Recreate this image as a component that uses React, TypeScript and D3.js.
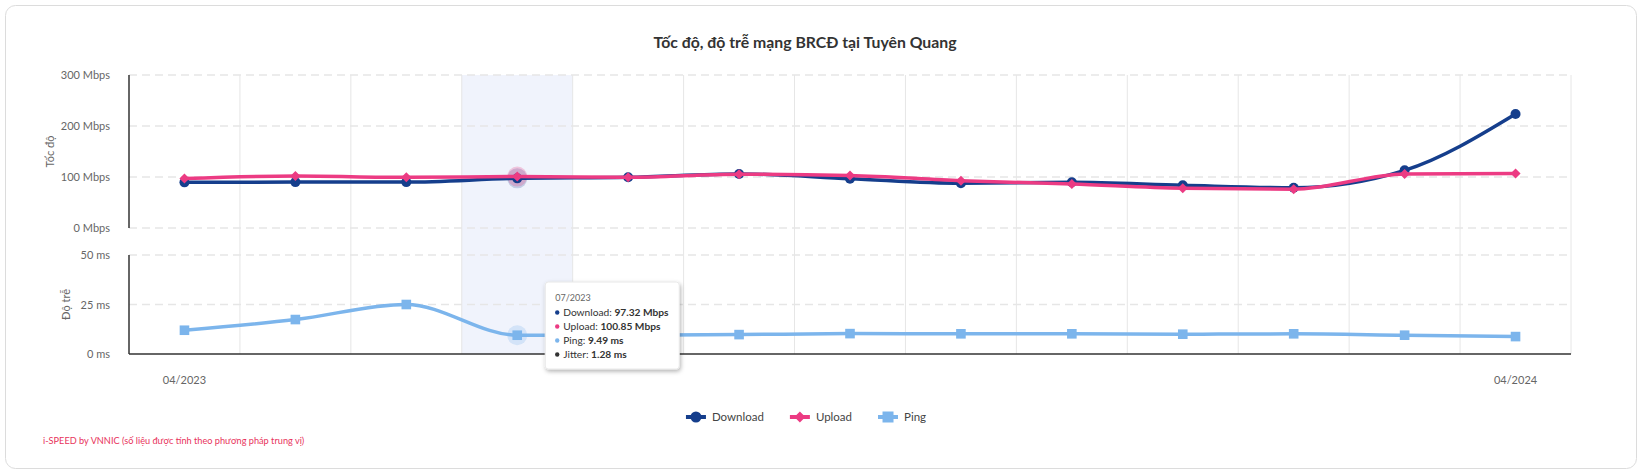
import { useMemo } from "react";
import * as d3 from "d3";

const months = [
  "04/2023", "05/2023", "06/2023", "07/2023", "08/2023", "09/2023", "10/2023",
  "11/2023", "12/2023", "01/2024", "02/2024", "03/2024", "04/2024",
];
const downloadMbps = [89.5, 90, 90, 97.32, 99.4, 106, 96.7, 87.6, 89.6, 83.7, 79, 113, 223.5];
const uploadMbps = [97, 102, 99.4, 100.85, 99.6, 105.5, 103, 92.8, 86.3, 77.8, 76, 106, 107];
const pingMs = [12, 17.4, 25, 9.49, 9.5, 9.8, 10.3, 10.2, 10.2, 10.0, 10.2, 9.5, 8.8];
const jitterMs = 1.28;
const speedTicks = [0, 100, 200, 300];
const pingTicks = [0, 25, 50];
const labelledMonths = ["04/2023", "04/2024"];
const hoveredMonth = "07/2023";

const W = 1642;
const H = 472;
const PLOT = { left: 129, right: 1571 };
const SPEED_PANE = { top: 75, bottom: 228 };
const PING_PANE = { top: 255, bottom: 354 };

const NAVY = "#153e8c";
const PINK = "#ec3b83";
const SKY = "#7cb5ec";
const GRID = "#e6e6e6";
const LABEL = "#666666";
const FONT = "Lato, 'Open Sans', sans-serif";

const legendItems = [
  { name: "Download", color: NAVY, shape: "circle" },
  { name: "Upload", color: PINK, shape: "diamond" },
  { name: "Ping", color: SKY, shape: "square" },
];

function Marker({ shape, x, y, color, r }: { shape: string; x: number; y: number; color: string; r: number }) {
  if (shape === "circle") return <circle cx={x} cy={y} r={r} fill={color} />;
  if (shape === "square") return <rect x={x - r} y={y - r} width={2 * r} height={2 * r} fill={color} />;
  return <path d={`M${x},${y - r}L${x + r},${y}L${x},${y + r}L${x - r},${y}Z`} fill={color} />;
}

function measure(text: string, font: string) {
  const ctx = document.createElement("canvas").getContext("2d");
  if (!ctx) return text.length * 6;
  ctx.font = font;
  return ctx.measureText(text).width;
}

export default function App() {
  const x = useMemo(
    () => d3.scaleBand<string>().domain(months).range([PLOT.left, PLOT.right]).padding(0),
    []
  );
  const ySpeed = useMemo(
    () => d3.scaleLinear().domain([0, 300]).range([SPEED_PANE.bottom, SPEED_PANE.top]),
    []
  );
  const yPing = useMemo(
    () => d3.scaleLinear().domain([0, 50]).range([PING_PANE.bottom, PING_PANE.top]),
    []
  );
  const cx = (m: string) => x(m)! + x.bandwidth() / 2;

  const speedLine = d3
    .line<number>()
    .x((_, i) => cx(months[i]))
    .y((d) => ySpeed(d))
    .curve(d3.curveMonotoneX);
  const pingLine = d3
    .line<number>()
    .x((_, i) => cx(months[i]))
    .y((d) => yPing(d))
    .curve(d3.curveMonotoneX);

  const hi = months.indexOf(hoveredMonth);
  const hx = cx(hoveredMonth);

  // legend layout
  const legendFontSize = 11.5;
  const legendFont = `${legendFontSize}px ${FONT}`;
  const legendCenter = 806;
  const symW = 20;
  const itemW = legendItems.map((it) => symW + 6 + measure(it.name, legendFont));
  const gap = 26;
  const totalW = d3.sum(itemW) + gap * (legendItems.length - 1);
  let lx = legendCenter - totalW / 2;
  const legendPos = itemW.map((w) => {
    const p = lx;
    lx += w + gap;
    return p;
  });
  const legendY = 417;

  const tipX = hx + 28;
  const tipY = 282;
  const tipRows = [
    { label: "Download", value: `${downloadMbps[hi].toFixed(2)} Mbps`, color: NAVY },
    { label: "Upload", value: `${uploadMbps[hi].toFixed(2)} Mbps`, color: PINK },
    { label: "Ping", value: `${pingMs[hi].toFixed(2)} ms`, color: SKY },
    { label: "Jitter", value: `${jitterMs.toFixed(2)} ms`, color: "#333333" },
  ];

  return (
    <div style={{ position: "absolute", left: 0, top: 0 }}>
      <svg width={W} height={H} style={{ display: "block", fontFamily: FONT }}>
        <defs>
          <filter id="tipShadow" x="-20%" y="-20%" width="140%" height="150%">
            <feDropShadow dx="1" dy="2" stdDeviation="2" floodColor="#000" floodOpacity="0.3" />
          </filter>
        </defs>
        <rect width={W} height={H} fill="#ffffff" />
        <rect x={5.5} y={5.5} width={1631} height={463} rx={10} fill="#ffffff" stroke="#dcdcdc" />

        <text x={805} y={48} textAnchor="middle" fontSize={15.8} fontWeight={700} fill="#333333">
          Tốc độ, độ trễ mạng BRCĐ tại Tuyên Quang
        </text>

        {/* hovered band */}
        <rect
          x={x(hoveredMonth)}
          y={SPEED_PANE.top}
          width={x.bandwidth()}
          height={PING_PANE.bottom - SPEED_PANE.top}
          fill="rgba(204,214,245,0.3)"
        />

        {/* vertical grid lines */}
        {months.map((m) => (
          <line
            key={m}
            x1={x(m)! + x.bandwidth()}
            x2={x(m)! + x.bandwidth()}
            y1={SPEED_PANE.top}
            y2={PING_PANE.bottom}
            stroke={GRID}
            strokeWidth={1}
          />
        ))}

        {/* speed pane grid + labels */}
        {speedTicks.map((t) => (
          <g key={`s${t}`}>
            <line
              x1={PLOT.left}
              x2={PLOT.right}
              y1={ySpeed(t)}
              y2={ySpeed(t)}
              stroke={GRID}
              strokeWidth={1.5}
              strokeDasharray="8,5"
            />
            <text x={110} y={ySpeed(t) + 4} textAnchor="end" fontSize={11} fill={LABEL}>
              {t} Mbps
            </text>
          </g>
        ))}
        {pingTicks.map((t) => (
          <g key={`p${t}`}>
            {t > 0 && (
              <line
                x1={PLOT.left}
                x2={PLOT.right}
                y1={yPing(t)}
                y2={yPing(t)}
                stroke={GRID}
                strokeWidth={1.5}
                strokeDasharray="8,5"
              />
            )}
            <text x={110} y={yPing(t) + 4} textAnchor="end" fontSize={11} fill={LABEL}>
              {t} ms
            </text>
          </g>
        ))}

        {/* axis lines */}
        <line x1={PLOT.left} x2={PLOT.left} y1={SPEED_PANE.top} y2={SPEED_PANE.bottom} stroke="#333333" strokeWidth={1.5} />
        <line x1={PLOT.left} x2={PLOT.left} y1={PING_PANE.top} y2={PING_PANE.bottom} stroke="#333333" strokeWidth={1.5} />
        <line x1={PLOT.left} x2={PLOT.right} y1={PING_PANE.bottom} y2={PING_PANE.bottom} stroke="#333333" strokeWidth={1.5} />

        {/* axis titles */}
        <text
          transform={`translate(50,${(SPEED_PANE.top + SPEED_PANE.bottom) / 2}) rotate(-90)`}
          textAnchor="middle"
          fontSize={11}
          fill={LABEL}
          dy="0.35em"
        >
          Tốc độ
        </text>
        <text
          transform={`translate(66,${(PING_PANE.top + PING_PANE.bottom) / 2}) rotate(-90)`}
          textAnchor="middle"
          fontSize={11}
          fill={LABEL}
          dy="0.35em"
        >
          Độ trễ
        </text>

        {labelledMonths.map((m) => (
          <text key={m} x={cx(m)} y={384} textAnchor="middle" fontSize={11} fill={LABEL}>
            {m}
          </text>
        ))}

        {/* hover halos */}
        <circle cx={hx} cy={ySpeed(downloadMbps[hi])} r={10} fill={NAVY} opacity={0.2} />
        <circle cx={hx} cy={ySpeed(uploadMbps[hi])} r={10} fill={PINK} opacity={0.25} />
        <circle cx={hx} cy={yPing(pingMs[hi])} r={10} fill={SKY} opacity={0.25} />

        {/* series */}
        <path d={speedLine(downloadMbps)!} fill="none" stroke={NAVY} strokeWidth={3.5} />
        {downloadMbps.map((d, i) => (
          <Marker key={`d${i}`} shape="circle" x={cx(months[i])} y={ySpeed(d)} color={NAVY} r={5} />
        ))}
        <path d={speedLine(uploadMbps)!} fill="none" stroke={PINK} strokeWidth={3.5} />
        {uploadMbps.map((d, i) => (
          <Marker key={`u${i}`} shape="diamond" x={cx(months[i])} y={ySpeed(d)} color={PINK} r={5} />
        ))}
        <path d={pingLine(pingMs)!} fill="none" stroke={SKY} strokeWidth={3.5} />
        {pingMs.map((d, i) => (
          <Marker key={`p${i}`} shape="square" x={cx(months[i])} y={yPing(d)} color={SKY} r={4.8} />
        ))}

        {/* legend */}
        {legendItems.map((it, i) => (
          <g key={it.name}>
            <line
              x1={legendPos[i]}
              x2={legendPos[i] + symW}
              y1={legendY}
              y2={legendY}
              stroke={it.color}
              strokeWidth={4}
            />
            <Marker shape={it.shape} x={legendPos[i] + symW / 2} y={legendY} color={it.color} r={5.5} />
            <text x={legendPos[i] + symW + 6} y={legendY + 4} fontSize={legendFontSize} fill="#444444">
              {it.name}
            </text>
          </g>
        ))}

        <text x={43} y={444} fontSize={9.2} fill="#e8335c">
          i-SPEED by VNNIC (số liệu được tính theo phương pháp trung vị)
        </text>

        {/* tooltip */}
        <g transform={`translate(${tipX},${tipY})`}>
          <rect width={134} height={87} rx={3} fill="#ffffff" stroke="#e8e8e8" filter="url(#tipShadow)" />
          <text x={10} y={19} fontSize={9} fill={LABEL}>
            {hoveredMonth}
          </text>
          {tipRows.map((r, i) => (
            <g key={r.label} transform={`translate(0,${34 + i * 14})`}>
              <circle cx={12} cy={-3.5} r={2.2} fill={r.color} />
              <text x={18} y={0} fontSize={10.2} fill="#333333">
                {r.label}: <tspan fontWeight={700}>{r.value}</tspan>
              </text>
            </g>
          ))}
        </g>
      </svg>
    </div>
  );
}
